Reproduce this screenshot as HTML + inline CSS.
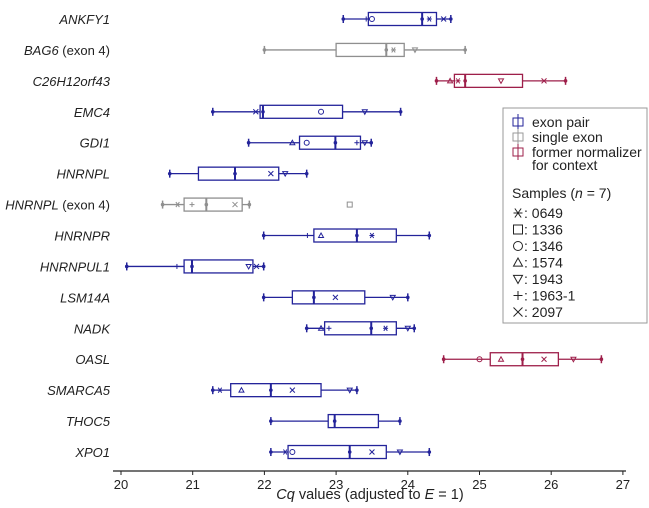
<!DOCTYPE html>
<html><head><meta charset="utf-8"><style>
body{margin:0;background:#fff;}
svg text{font-family:"Liberation Sans",Arial,sans-serif;}
</style></head><body>
<svg id="chart" width="649" height="503" viewBox="0 0 649 503" xmlns="http://www.w3.org/2000/svg">
<g id="plot"></g>
<g id="axis"></g>
<text x="370" y="499" text-anchor="middle" font-size="14.5" fill="#222"><tspan font-style="italic">Cq</tspan> values (adjusted to <tspan font-style="italic">E</tspan> = 1)</text>
<g>
<rect x="503" y="108" width="144" height="215" fill="#fff" stroke="#999" stroke-width="1"/>
<g><rect x="513" y="118" width="10" height="8" fill="none" stroke="#23239a"/><line x1="518" y1="114" x2="518" y2="130" stroke="#23239a"/><text x="532" y="127" font-size="14" fill="#222">exon pair</text></g>
<g><rect x="513" y="133" width="10" height="8" fill="none" stroke="#999"/><line x1="518" y1="129" x2="518" y2="145" stroke="#999"/><text x="532" y="142" font-size="14" fill="#222">single exon</text></g>
<g><rect x="513" y="148" width="10" height="8" fill="none" stroke="#9e1f4a"/><line x1="518" y1="144" x2="518" y2="160" stroke="#9e1f4a"/><text x="532" y="157" font-size="14" fill="#222">former normalizer</text><text x="532" y="170" font-size="14" fill="#222">for context</text></g>
<text x="512" y="198" font-size="14" fill="#222">Samples (<tspan font-style="italic">n</tspan> = 7)</text>
<g id="legsamples"></g>
</g>
</svg>
<script>
const genes=["ANKFY1","BAG6 (exon 4)","C26H12orf43","EMC4","GDI1","HNRNPL","HNRNPL (exon 4)","HNRNPR","HNRNPUL1","LSM14A","NADK","OASL","SMARCA5","THOC5","XPO1"];
const groups=["pair","single","former","pair","pair","pair","single","pair","pair","pair","pair","former","pair","pair","pair"];
const mins=[23.1,22.0,24.4,21.28,21.78,20.68,20.58,21.99,20.08,21.99,22.59,24.5,21.28,22.09,22.09];
const q1s=[23.45,23.0,24.65,21.94,22.49,21.08,20.88,22.69,20.88,22.39,22.84,25.15,21.53,22.89,22.33];
const meds=[24.2,23.7,24.8,21.98,22.99,21.59,21.19,23.29,20.99,22.69,23.49,25.6,22.09,22.98,23.19];
const q3s=[24.4,23.95,25.6,23.09,23.34,22.2,21.69,23.84,21.84,23.4,23.84,26.1,22.79,23.59,23.7];
const maxs=[24.6,24.8,26.2,23.9,23.49,22.59,21.79,24.3,21.99,24.0,24.09,26.7,23.29,23.89,24.3];
const pointGene=[0,0,0,0,1,1,2,2,2,2,3,3,3,4,4,4,4,5,5,6,6,6,6,7,7,7,8,8,8,9,9,10,10,10,10,11,11,11,11,12,12,12,12,14,14,14,14];
const pointVal=[23.42,23.5,24.3,24.5,23.8,24.1,24.59,24.7,25.3,25.9,21.88,22.79,23.4,22.39,22.59,23.29,23.4,22.09,22.29,20.79,20.99,21.59,23.19,22.6,22.79,23.5,20.78,21.78,21.89,22.99,23.79,22.79,22.9,23.69,24.0,25.0,25.3,25.9,26.31,21.38,21.68,22.39,23.19,22.29,22.39,23.5,23.89];
const pointSym=["+","o","*","x","*","v","^","*","v","x","x","o","v","^","o","+","v","x","v","*","+","x","s","+","^","*","+","v","x","x","v","^","+","*","v","o","^","x","v","*","^","x","v","*","o","x","v"];
const ticks=[20,21,22,23,24,25,26,27];
const X0=121,PX=71.7,Y0=19,DY=30.93;
const xs=v=>X0+(v-20)*PX, ys=i=>Y0+i*DY;
const col={pair:"#23239a",single:"#8f8f8f",former:"#9e1f4a"};
const NS="http://www.w3.org/2000/svg";
function mk(t,a,p){const e=document.createElementNS(NS,t);for(const k in a)e.setAttribute(k,a[k]);p.appendChild(e);return e;}
function sym(s,x,y,c,p,r){r=r||2.5;const g=mk("g",{stroke:c,fill:"none","stroke-width":1},p);
 if(s==="o")mk("circle",{cx:x,cy:y,r:r},g);
 else if(s==="s")mk("rect",{x:x-r,y:y-r,width:2*r,height:2*r},g);
 else if(s==="^")mk("polygon",{points:`${x},${y-r} ${x-r},${y+r*0.8} ${x+r},${y+r*0.8}`},g);
 else if(s==="v")mk("polygon",{points:`${x},${y+r} ${x-r},${y-r*0.8} ${x+r},${y-r*0.8}`},g);
 else if(s==="+"){mk("line",{x1:x-r,y1:y,x2:x+r,y2:y},g);mk("line",{x1:x,y1:y-r,x2:x,y2:y+r},g);}
 else if(s==="x"){mk("line",{x1:x-r,y1:y-r,x2:x+r,y2:y+r},g);mk("line",{x1:x-r,y1:y+r,x2:x+r,y2:y-r},g);}
 else if(s==="*"){mk("line",{x1:x-r,y1:y,x2:x+r,y2:y},g);mk("line",{x1:x-r*0.7,y1:y-r,x2:x+r*0.7,y2:y+r},g);mk("line",{x1:x-r*0.7,y1:y+r,x2:x+r*0.7,y2:y-r},g);}
 return g;}
const plot=document.getElementById("plot");
genes.forEach((g,i)=>{const y=ys(i),c=col[groups[i]];
 const gr=mk("g",{},plot);
 
 
 const lb=mk("text",{x:110,y:y+5,"text-anchor":"end","font-size":13,"font-style":"italic",fill:"#222"},gr);
 
 
 if(g.indexOf(" (")>0){const p=g.split(" (");lb.textContent=p[0];const t=mk("tspan",{"font-style":"normal"},lb);t.textContent=" ("+p[1];}else lb.textContent=g;
 mk("line",{x1:xs(mins[i]),y1:y,x2:xs(q1s[i]),y2:y,stroke:c,"stroke-width":1.3},gr);
 mk("line",{x1:xs(q3s[i]),y1:y,x2:xs(maxs[i]),y2:y,stroke:c,"stroke-width":1.3},gr);
 mk("rect",{x:xs(q1s[i]),y:y-6.5,width:xs(q3s[i])-xs(q1s[i]),height:13,fill:"#fff",stroke:c,"stroke-width":1.3},gr);
 mk("line",{x1:xs(meds[i]),y1:y-6.5,x2:xs(meds[i]),y2:y+6.5,stroke:c,"stroke-width":2},gr);
 [mins[i],maxs[i]].forEach(v=>{mk("line",{x1:xs(v),y1:y-4,x2:xs(v),y2:y+4,stroke:c,"stroke-width":1.5},gr);mk("circle",{cx:xs(v),cy:y,r:1.8,fill:c},gr);});
 mk("circle",{cx:xs(meds[i]),cy:y,r:1.8,fill:c},gr);
});
pointGene.forEach((gi,k)=>{const p=sym(pointSym[k],xs(pointVal[k]),ys(gi),col[groups[gi]],plot);
 
 });
const ax=document.getElementById("axis");
mk("line",{x1:113,y1:471,x2:626,y2:471,stroke:"#222","stroke-width":1.2},ax);
ticks.forEach(t=>{mk("line",{x1:xs(t),y1:471,x2:xs(t),y2:475,stroke:"#222"},ax);
 const tx=mk("text",{x:xs(t),y:489,"text-anchor":"middle","font-size":13,fill:"#222"},ax);tx.textContent=t;
 
 });
const legSyms=["*","s","o","^","v","+","x"],legLabels=["0649","1336","1346","1574","1943","1963-1","2097"];
const ls=document.getElementById("legsamples");
legSyms.forEach((s,k)=>{const y=213+k*16.5;sym(s,518,y,"#222",ls,4.5);
 const t=mk("text",{x:524,y:y+5,"font-size":14,fill:"#222"},ls);t.textContent=": "+legLabels[k];
 
 });
</script>
</body></html>
